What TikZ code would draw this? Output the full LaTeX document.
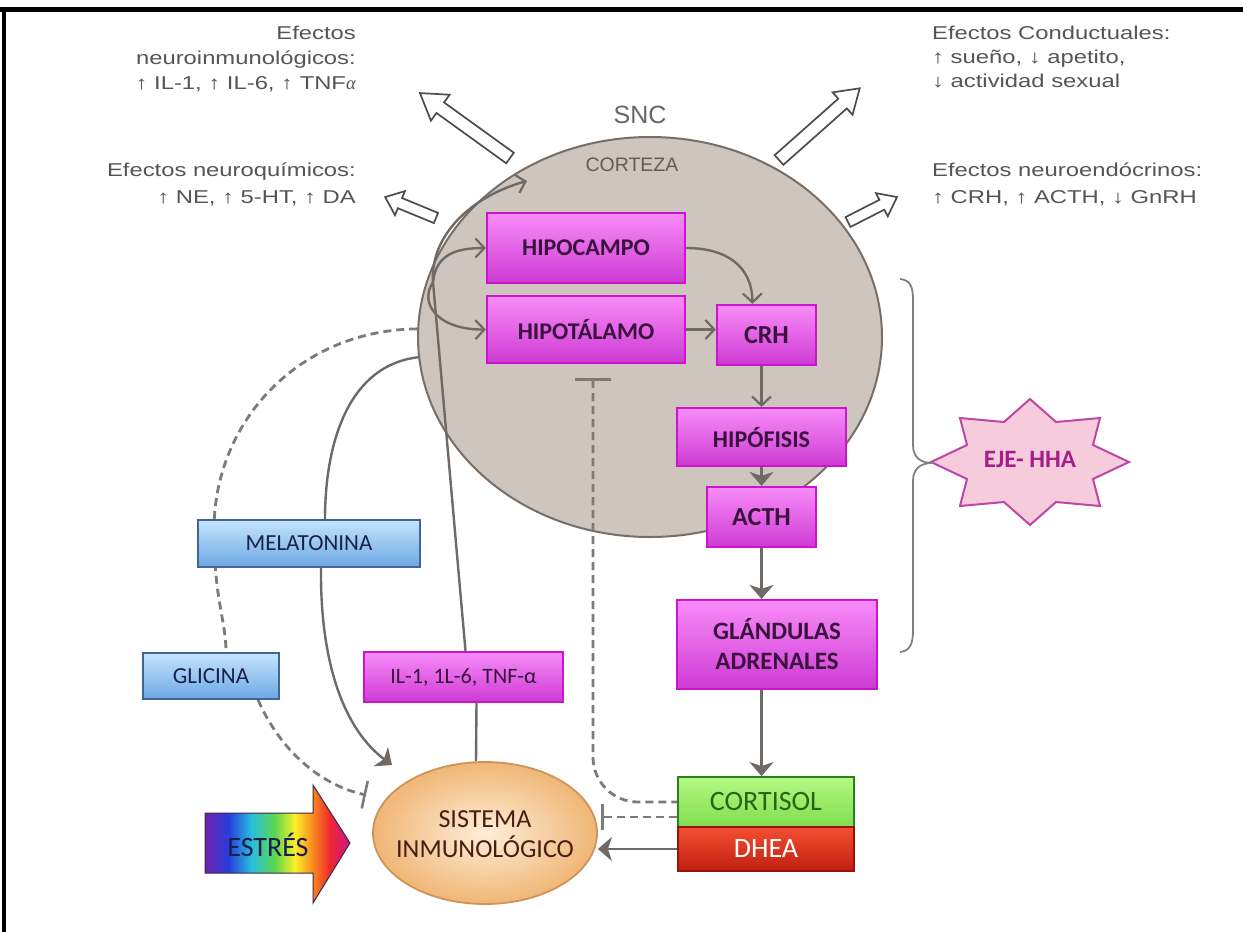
\documentclass[tikz,border=0pt]{standalone}
\usepackage{fontspec}
\setmainfont{Carlito}
\newfontfamily\labfont[FakeStretch=1.28]{Liberation Sans}
\newfontfamily\plainsans{Liberation Sans}
\newfontfamily\serifit{Liberation Serif}
\usetikzlibrary{arrows.meta,shapes.geometric}
\definecolor{magL}{RGB}{248,140,248}
\definecolor{magD}{RGB}{206,58,212}
\definecolor{magB}{RGB}{205,20,205}
\definecolor{magT}{RGB}{58,18,62}
\definecolor{bluL}{RGB}{196,228,252}
\definecolor{bluD}{RGB}{108,168,228}
\definecolor{bluB}{RGB}{66,100,150}
\definecolor{bluT}{RGB}{24,34,72}
\definecolor{grnL}{RGB}{180,248,130}
\definecolor{grnD}{RGB}{128,222,78}
\definecolor{grnB}{RGB}{40,128,30}
\definecolor{grnT}{RGB}{40,100,22}
\definecolor{redL}{RGB}{244,80,50}
\definecolor{redD}{RGB}{192,30,18}
\definecolor{redB}{RGB}{150,20,10}
\definecolor{sisI}{RGB}{254,238,216}
\definecolor{sisO}{RGB}{240,182,118}
\definecolor{sisB}{RGB}{205,148,90}
\definecolor{sisT}{RGB}{72,30,20}
\definecolor{sncF}{RGB}{206,197,191}
\definecolor{sncB}{RGB}{120,110,104}
\definecolor{starF}{RGB}{246,204,220}
\definecolor{starB}{RGB}{190,70,165}
\definecolor{starT}{RGB}{165,30,135}
\definecolor{conC}{RGB}{112,106,102}
\definecolor{dshC}{RGB}{125,122,120}
\definecolor{labC}{RGB}{85,85,85}
\definecolor{estB}{RGB}{60,40,70}
\definecolor{estT}{RGB}{28,28,80}
\definecolor{rbA}{RGB}{112,32,170}
\definecolor{rbB}{RGB}{40,60,220}
\definecolor{rbC}{RGB}{40,190,220}
\definecolor{rbD}{RGB}{90,215,80}
\definecolor{rbE}{RGB}{250,240,40}
\definecolor{rbF}{RGB}{250,140,30}
\definecolor{rbG}{RGB}{238,40,45}
\definecolor{rbH}{RGB}{205,20,140}
\pgfdeclarehorizontalshading{rainbowsh}{100bp}{color(0bp)=(rbA); color(25bp)=(rbA); color(33bp)=(rbB); color(41bp)=(rbC); color(49bp)=(rbD); color(56bp)=(rbE); color(62bp)=(rbF); color(68bp)=(rbG); color(75bp)=(rbH); color(100bp)=(rbH)}
\pgfdeclarelayer{bg}
\pgfdeclarelayer{mid}
\pgfsetlayers{bg,mid,main}
\begin{document}
\begin{tikzpicture}[x=1pt,y=-1pt,
  magbox/.style={draw=magB, line width=2.2pt, top color=magL, bottom color=magD, text=magT, inner sep=0pt, align=center, font=\bfseries\fontsize{24}{30}\selectfont},
  blubox/.style={draw=bluB, line width=1.6pt, top color=bluL, bottom color=bluD, text=bluT, inner sep=0pt, font=\fontsize{23}{28}\selectfont},
  lab/.style={text=labC, inner sep=0pt, font=\labfont\fontsize{18.6}{22}\selectfont},
  conn/.style={draw=conC, line width=2.4pt},
  dsh/.style={draw=dshC, line width=2.8pt, dash pattern=on 8pt off 5pt},
  stl/.style={-{Stealth[length=14pt,width=24pt,inset=4pt]}},
  barb/.style={-{Straight Barb[length=9pt,width=19pt,line width=2.2pt]}},
  hol/.style={draw=black!70, fill=white, line width=1.7pt, line join=miter}]
\useasboundingbox (0,0) rectangle (1243,932);
\begin{pgfonlayer}{bg}
\fill[white] (0,0) rectangle (1243,932);
\node[ellipse, draw=sncB, fill=sncF, line width=2pt, minimum width=464pt, minimum height=400pt, inner sep=0pt] (snc) at (650,337) {};
\end{pgfonlayer}
% frame
\draw[line width=5pt] (0,9.5) -- (1243,9.5);
\draw[line width=4pt] (3.5,7) -- (3.5,932);
% titles
\node[text=black!60, font=\plainsans\fontsize{25}{28}\selectfont] (snct) at (640,115) {SNC};
\node[text={rgb,255:red,100;green,90;blue,86}, font=\plainsans\fontsize{19.5}{22}\selectfont] (cort) at (632,165) {CORTEZA};
% labels
\node[lab, anchor=base east] (ni1) at (356,39) {Efectos};
\node[lab, anchor=base east] (ni2) at (356,64) {neuroinmunológicos:};
\node[lab, anchor=base east] (ni3) at (356,89) {↑ IL-1, ↑ IL-6, ↑ TNF{\serifit\itshape α}};
\node[lab, anchor=base east] (nq1) at (356,176) {Efectos neuroquímicos:};
\node[lab, anchor=base east] (nq2) at (356,203) {↑ NE, ↑ 5-HT, ↑ DA};
\node[lab, anchor=base west] (co1) at (932,39) {Efectos Conductuales:};
\node[lab, anchor=base west] (co2) at (932,63) {↑ sueño, ↓ apetito,};
\node[lab, anchor=base west] (co3) at (932,87) {↓ actividad sexual};
\node[lab, anchor=base west] (ne1) at (932,176) {Efectos neuroendócrinos:};
\node[lab, anchor=base west] (ne2) at (932,203) {↑ CRH, ↑ ACTH, ↓ GnRH};
% hollow arrows
\begin{scope}[shift={(510,158)}, rotate=144.2]
\draw[hol] (0,-6.5) -- (86,-6.5) -- (86,-16) -- (111,0) -- (86,16) -- (86,6.5) -- (0,6.5) -- cycle;
\end{scope}
\begin{scope}[shift={(436,218)}, rotate=157.6]
\draw[hol] (0,-5.5) -- (39,-5.5) -- (39,-13) -- (55,0) -- (39,13) -- (39,5.5) -- (0,5.5) -- cycle;
\end{scope}
\begin{scope}[shift={(779,160)}, rotate=41.6]
\draw[hol] (0,-6.5) -- (85,-6.5) -- (85,-15) -- (108,0) -- (85,15) -- (85,6.5) -- (0,6.5) -- cycle;
\end{scope}
\begin{scope}[shift={(848,222)}, rotate=27]
\draw[hol] (0,-5.5) -- (38,-5.5) -- (38,-13) -- (55,0) -- (38,13) -- (38,5.5) -- (0,5.5) -- cycle;
\end{scope}
% boxes
\node[magbox, minimum width=198pt, minimum height=70pt] (hipocampo) at (586,248) {HIPOCAMPO};
\node[magbox, minimum width=198pt, minimum height=67pt] (hipotalamo) at (586,329.5) {HIPOTÁLAMO};
\node[magbox, minimum width=99pt, minimum height=60pt, font=\bfseries\fontsize{26}{30}\selectfont] (crh) at (766.5,335) {CRH};
\node[magbox, minimum width=169pt, minimum height=58pt] (hipofisis) at (761.5,437) {HIPÓFISIS};
\node[magbox, minimum width=109pt, minimum height=60pt, font=\bfseries\fontsize{26}{30}\selectfont] (acth) at (761.5,517) {ACTH};
\node[magbox, minimum width=200pt, minimum height=89pt, font=\bfseries\fontsize{25}{30}\selectfont] (glandulas) at (777,644.5) {GLÁNDULAS\\ADRENALES};
\node[magbox, minimum width=199pt, minimum height=50pt, font=\fontsize{22}{26}\selectfont] (il) at (463.5,677) {IL-1, 1L-6, TNF-α};
\node[blubox, minimum width=222pt, minimum height=47pt] (mel) at (309,543.5) {MELATONINA};
\node[blubox, minimum width=136pt, minimum height=46pt] (glicina) at (211,676) {GLICINA};
\node[draw=grnB, line width=1.8pt, top color=grnL, bottom color=grnD, text=grnT, inner sep=0pt, minimum width=176pt, minimum height=50pt, font=\fontsize{28}{30}\selectfont] (cortisol) at (766,802) {CORTISOL};
\node[draw=redB, line width=1.8pt, top color=redL, bottom color=redD, text=white, inner sep=0pt, minimum width=176pt, minimum height=44pt, font=\fontsize{28}{30}\selectfont] (dhea) at (766,849) {DHEA};
\node[ellipse, draw=sisB, line width=1.8pt, inner color=sisI, outer color=sisO, minimum width=224pt, minimum height=142pt, inner sep=0pt] (sistema) at (485,833) {};
\node[text=sisT, align=center, inner sep=0pt, font=\fontsize{26}{30}\selectfont] (sistemat) at (485,834) {SISTEMA\\INMUNOLÓGICO};
% estres arrow
\shade[shading=rainbowsh, draw=estB, line width=1pt] (205,813) -- (313,813) -- (313,785) -- (350,843) -- (313,903) -- (313,873) -- (205,873) -- cycle;
\node[text=estT, font=\fontsize{28}{30}\selectfont] (estres) at (268,845) {ESTRÉS};
% star
\draw[draw=starB, fill=starF, line width=2pt, line join=miter]
  (1129,462) -- (1093,445) -- (1100,418) -- (1056,422) -- (1030,399) -- (1004,422) -- (960,418) -- (967,445)
  -- (931,462) -- (967,479) -- (960,506) -- (1004,502) -- (1030,525) -- (1056,502) -- (1100,506) -- (1093,479) -- cycle;
\node[text=starT, font=\bfseries\fontsize{25}{28}\selectfont] (eje) at (1030,459) {EJE- HHA};
% bracket
\draw[draw=black!50, line width=1.8pt] (900,279) .. controls (911,280) and (913,288) .. (913,300) -- (913,445) .. controls (913,457) and (920,462) .. (930,463) .. controls (920,464) and (913,469) .. (913,481) -- (913,630) .. controls (913,644) and (910,651) .. (900,652);
% connectors
\begin{pgfonlayer}{mid}
\coordinate (jn) at (433,282);
\coordinate (ctxend) at (527,181);
\coordinate (melend) at (392,765);
\coordinate (glyend) at (366,795);
\draw[conn, barb] ([xshift=2pt]il.north) -- (jn) .. controls (430,235) and (472,196) .. (ctxend);
\draw[conn, barb] (jn) .. controls (436,255) and (455,248) .. (hipocampo.west);
\draw[conn, barb] (jn) .. controls (418,305) and (440,330) .. (hipotalamo.west);
\draw[conn, barb] (hipocampo.east) .. controls (725,248) and (752,265) .. ([xshift=-14pt]crh.north);
\draw[conn, barb] (hipotalamo.east) -- (crh.west |- hipotalamo.east);
\draw[conn, barb] (hipofisis.north |- crh.south) -- (hipofisis.north);
\draw[conn, stl] (hipofisis.south) -- (acth.north);
\draw[conn, stl] (acth.south) -- (acth.south |- glandulas.north);
\draw[conn, stl] (acth.south |- glandulas.south) -- (acth.south |- cortisol.north);
\draw[dsh, rounded corners=45pt, {Bar[width=36pt,line width=2.6pt]}-] ([xshift=7pt,yshift=-14pt]hipotalamo.south) |- (cortisol.west);
\draw[dsh, -{Bar[width=26pt,line width=2.6pt]}] ([yshift=-15pt]cortisol.west) -- ([xshift=3pt,yshift=-15pt]cortisol.west -| sistema.east);
\draw[conn, stl] (dhea.west) -- (dhea.west -| sistema.east);
\draw[conn] ([xshift=13pt]il.south) -- ([xshift=-9pt]sistema.north);
\draw[conn] (snc.185) .. controls (350,365) and (325,440) .. ([xshift=16pt]mel.north);
\draw[conn, stl] ([xshift=12pt]mel.south) .. controls (320,665) and (345,730) .. (melend);
\draw[dsh] (snc.178) .. controls (300,330) and (214,420) .. (214,530) .. controls (214,600) and (226,620) .. ([xshift=15pt]glicina.north);
\draw[dsh, -{Bar[width=28pt,line width=2.6pt]}] ([xshift=47pt]glicina.south) .. controls (280,750) and (320,785) .. (glyend);
\end{pgfonlayer}
\end{tikzpicture}
\end{document}
